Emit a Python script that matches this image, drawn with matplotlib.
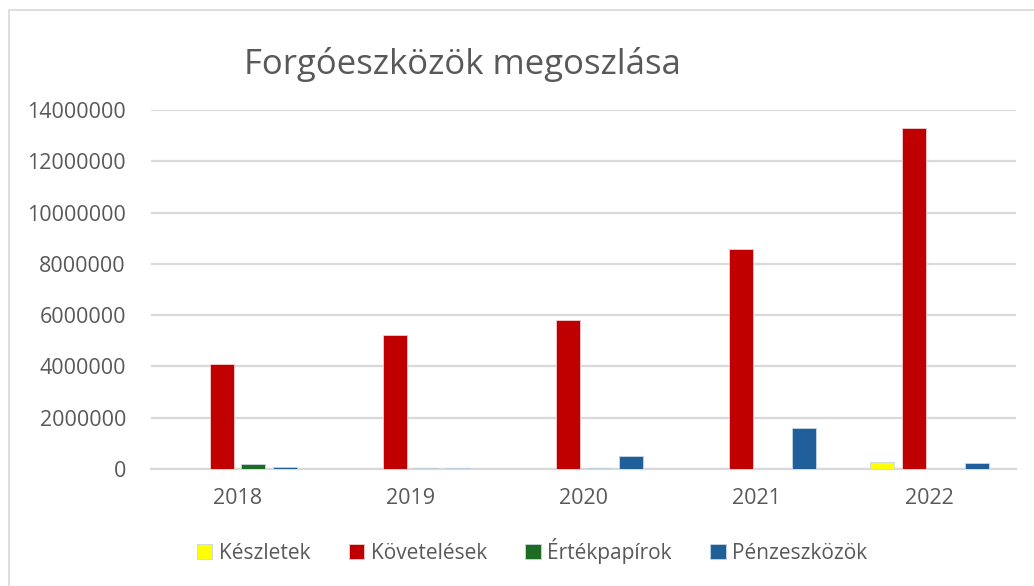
import matplotlib.pyplot as plt
import numpy as np

years = ["2018", "2019", "2020", "2021", "2022"]
series_names = ["Készletek", "Követelések", "Értékpapírok", "Pénzeszközök"]
keszletek = [0, 0, 0, 0, 290000]
kovetelesek = [4110000, 5220000, 5830000, 8560000, 13310000]
ertekpapirok = [195000, 25000, 20000, 0, 0]
penzeszkozok = [70000, 30000, 515000, 1610000, 230000]
colors = ["#FFFF00", "#C00000", "#1E6B24", "#215F9A"]
y_ticks = [0, 2000000, 4000000, 6000000, 8000000, 10000000, 12000000, 14000000]

plt.rcParams["font.family"] = ["Open Sans", "DejaVu Sans"]
text_color = "#595959"

fig = plt.figure(figsize=(10.34, 5.86), dpi=100)
ax = fig.add_axes([151 / 1034, 1 - 469 / 586, 865 / 1034, 359 / 586])

x = np.arange(len(years))
slot = 0.183
width = 0.139
all_series = [keszletek, kovetelesek, ertekpapirok, penzeszkozok]
for i, (vals, name, col) in enumerate(zip(all_series, series_names, colors)):
    ax.bar(x + (i - 1.5) * slot, vals, width=width, color=col, label=name,
           edgecolor="#F2D0D0" if i == 1 else "#C8D6E5", linewidth=0.6, zorder=3)

ax.set_xlim(-0.5, 4.5)
ax.set_ylim(0, 14000000)
ax.set_yticks(y_ticks)
ax.set_yticklabels([str(v) for v in y_ticks])
ax.set_xticks(x)
ax.set_xticklabels(years)
ax.yaxis.grid(True, color="#D9D9D9", linewidth=1.6, zorder=0)
ax.set_axisbelow(True)
for s in ["top", "right", "left"]:
    ax.spines[s].set_visible(False)
ax.spines["bottom"].set_color("#D9D9D9")
ax.spines["bottom"].set_linewidth(1.6)
ax.tick_params(axis="both", length=0, labelsize=15.5, colors=text_color)
ax.tick_params(axis="y", pad=18)
ax.tick_params(axis="x", pad=14)

fig.text(462 / 1034, 1 - 65 / 586, "Forgóeszközök megoszlása", ha="center", va="center",
         fontsize=25, color=text_color)

fig.legend(loc="center", bbox_to_anchor=(532 / 1034, 1 - 551 / 586), ncol=4, frameon=False,
           fontsize=15, labelcolor=text_color, handlelength=0.75, handleheight=0.75,
           handletextpad=0.3, columnspacing=1.85)

border = plt.Rectangle((9 / 1034, -0.01), 1.1, 1 - 10 / 586 + 0.01, transform=fig.transFigure,
                       fill=False, edgecolor="#D9D9D9", linewidth=1.2)
fig.patches.append(border)

fig.savefig("out.png", dpi=100)
